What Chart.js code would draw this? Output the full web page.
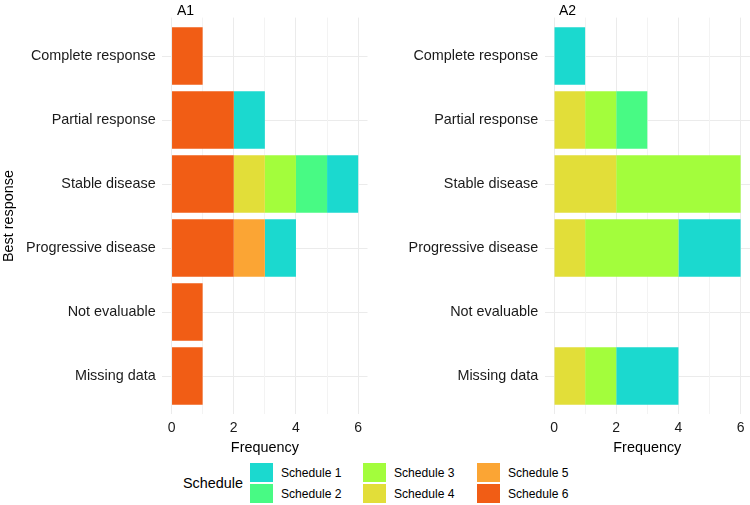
<!DOCTYPE html>
<html><head><meta charset="utf-8">
<script src="https://cdn.jsdelivr.net/npm/chart.js@4"></script>
<style>
html,body{margin:0;padding:0;background:#fff;overflow:hidden;width:750px;height:505px;}
body{position:relative;font-family:"Liberation Sans",Arial,Helvetica,sans-serif;color:#000;}
canvas{position:absolute;}
.lbl{position:absolute;white-space:nowrap;line-height:20px;height:20px;}
.key{position:absolute;width:23px;height:19px;}
</style></head><body>
<canvas id="c1" width="375" height="460" style="left:0;top:0"></canvas>
<canvas id="c2" width="370" height="460" style="left:380px;top:0"></canvas>
<div class="lbl" style="left:177px;top:0px;font-size:14px">A1</div>
<div class="lbl" style="left:559px;top:0px;font-size:14px">A2</div>
<div id="legend"></div>
<script>
const categories = ['Complete response','Partial response','Stable disease','Progressive disease','Not evaluable','Missing data'];
const schedules = ['Schedule 1','Schedule 2','Schedule 3','Schedule 4','Schedule 5','Schedule 6'];
const scheduleColors = ['#1bd9cf','#48fa84','#a3fd3c','#e2de39','#fba534','#f15d15'];
const xTickLabels = [0,2,4,6];
const panelTitles = ['A1','A2'];

// values per schedule, in category order
const a1Schedule1 = [0,1,1,1,0,0];
const a1Schedule2 = [0,0,1,0,0,0];
const a1Schedule3 = [0,0,1,0,0,0];
const a1Schedule4 = [0,0,1,0,0,0];
const a1Schedule5 = [0,0,0,1,0,0];
const a1Schedule6 = [1,2,2,2,1,1];

const a2Schedule1 = [1,0,0,2,0,2];
const a2Schedule2 = [0,1,0,0,0,0];
const a2Schedule3 = [0,1,4,3,0,1];
const a2Schedule4 = [0,1,2,1,0,1];
const a2Schedule5 = [0,0,0,0,0,0];
const a2Schedule6 = [0,0,0,0,0,0];

const a1Series = [a1Schedule1,a1Schedule2,a1Schedule3,a1Schedule4,a1Schedule5,a1Schedule6];
const a2Series = [a2Schedule1,a2Schedule2,a2Schedule3,a2Schedule4,a2Schedule5,a2Schedule6];

Chart.defaults.font.family = '"Liberation Sans", Arial, Helvetica, sans-serif';
Chart.defaults.color = '#1a1a1a';

function buildDatasets(series){
  const ds = [];
  // stack from Schedule 6 (at zero) to Schedule 1 (outermost)
  for (let s = series.length - 1; s >= 0; s--) {
    const pts = [];
    series[s].forEach((v,i)=>{ if (v > 0) pts.push({x:v, y:i}); });
    ds.push({label: schedules[s], data: pts, backgroundColor: scheduleColors[s], borderWidth: 0,
             barPercentage: 0.9, categoryPercentage: 1});
  }
  return ds;
}

function makeChart(id, series, yWidth, showYTitle, padRight){
  return new Chart(document.getElementById(id), {
    type: 'bar',
    data: { datasets: buildDatasets(series) },
    options: {
      indexAxis: 'y',
      responsive: false,
      animation: false,
      devicePixelRatio: 1,
      layout: { padding: { top: 17.6, right: padRight, left: 0, bottom: 0 } },
      plugins: { legend: { display: false }, tooltip: { enabled: false } },
      scales: {
        y: {
          type: 'linear', stacked: true, reverse: true, min: -0.6, max: 5.6, offset: false,
          afterBuildTicks: s => { s.ticks = categories.map((_,i)=>({value:i})); },
          afterFit: s => { s.width = yWidth; },
          ticks: { callback: v => categories[v] ?? '', padding: 6.5, font: { size: 14.4 }, color: '#1a1a1a' },
          grid: { color: '#ebebeb', lineWidth: 1, drawTicks: false, offset: false },
          border: { display: false },
          title: { display: showYTitle, text: 'Best response', font: { size: 14.4 }, color: '#000', padding: { top: 0.4, bottom: 0 } }
        },
        x: {
          type: 'linear', stacked: true, min: -0.3, max: 6.3, offset: false,
          afterBuildTicks: s => { s.ticks = [0,1,2,3,4,5,6].map(v=>({value:v})); },
          afterFit: s => { s.height = 45.6; },
          ticks: { callback: v => xTickLabels.includes(v) ? String(v) : '', padding: 5.5, font: { size: 14 }, color: '#1a1a1a', maxRotation: 0, autoSkip: false },
          grid: { color: c => (c.tick && c.tick.value % 2 === 0) ? '#ebebeb' : '#f3f3f3', lineWidth: 1, drawTicks: false, offset: false },
          border: { display: false },
          title: { display: true, text: 'Frequency', font: { size: 14.4 }, color: '#000', padding: { top: 0, bottom: 3.8 } }
        }
      }
    }
  });
}

makeChart('c1', a1Series, 162.2, true, 7.5);
makeChart('c2', a2Series, 164.7, false, 0);

// legend
const leg = document.getElementById('legend');
function addDiv(html, style, cls){
  const d = document.createElement('div');
  d.className = cls; d.textContent = html; d.setAttribute('style', style); leg.appendChild(d);
}
addDiv('Schedule', 'left:183px;top:473px;font-size:14.4px;', 'lbl');
const colX = [250, 363, 477];
const rowY = [463, 484];
schedules.forEach((s,i)=>{
  const c = Math.floor(i/2), r = i%2;
  const k = document.createElement('div');
  k.className = 'key';
  k.style.left = colX[c] + 'px'; k.style.top = rowY[r] + 'px'; k.style.background = scheduleColors[i];
  leg.appendChild(k);
  addDiv(s, 'left:' + (colX[c]+31) + 'px;top:' + (rowY[r]-0.5) + 'px;font-size:12.1px;', 'lbl');
});
</script>
</body></html>
